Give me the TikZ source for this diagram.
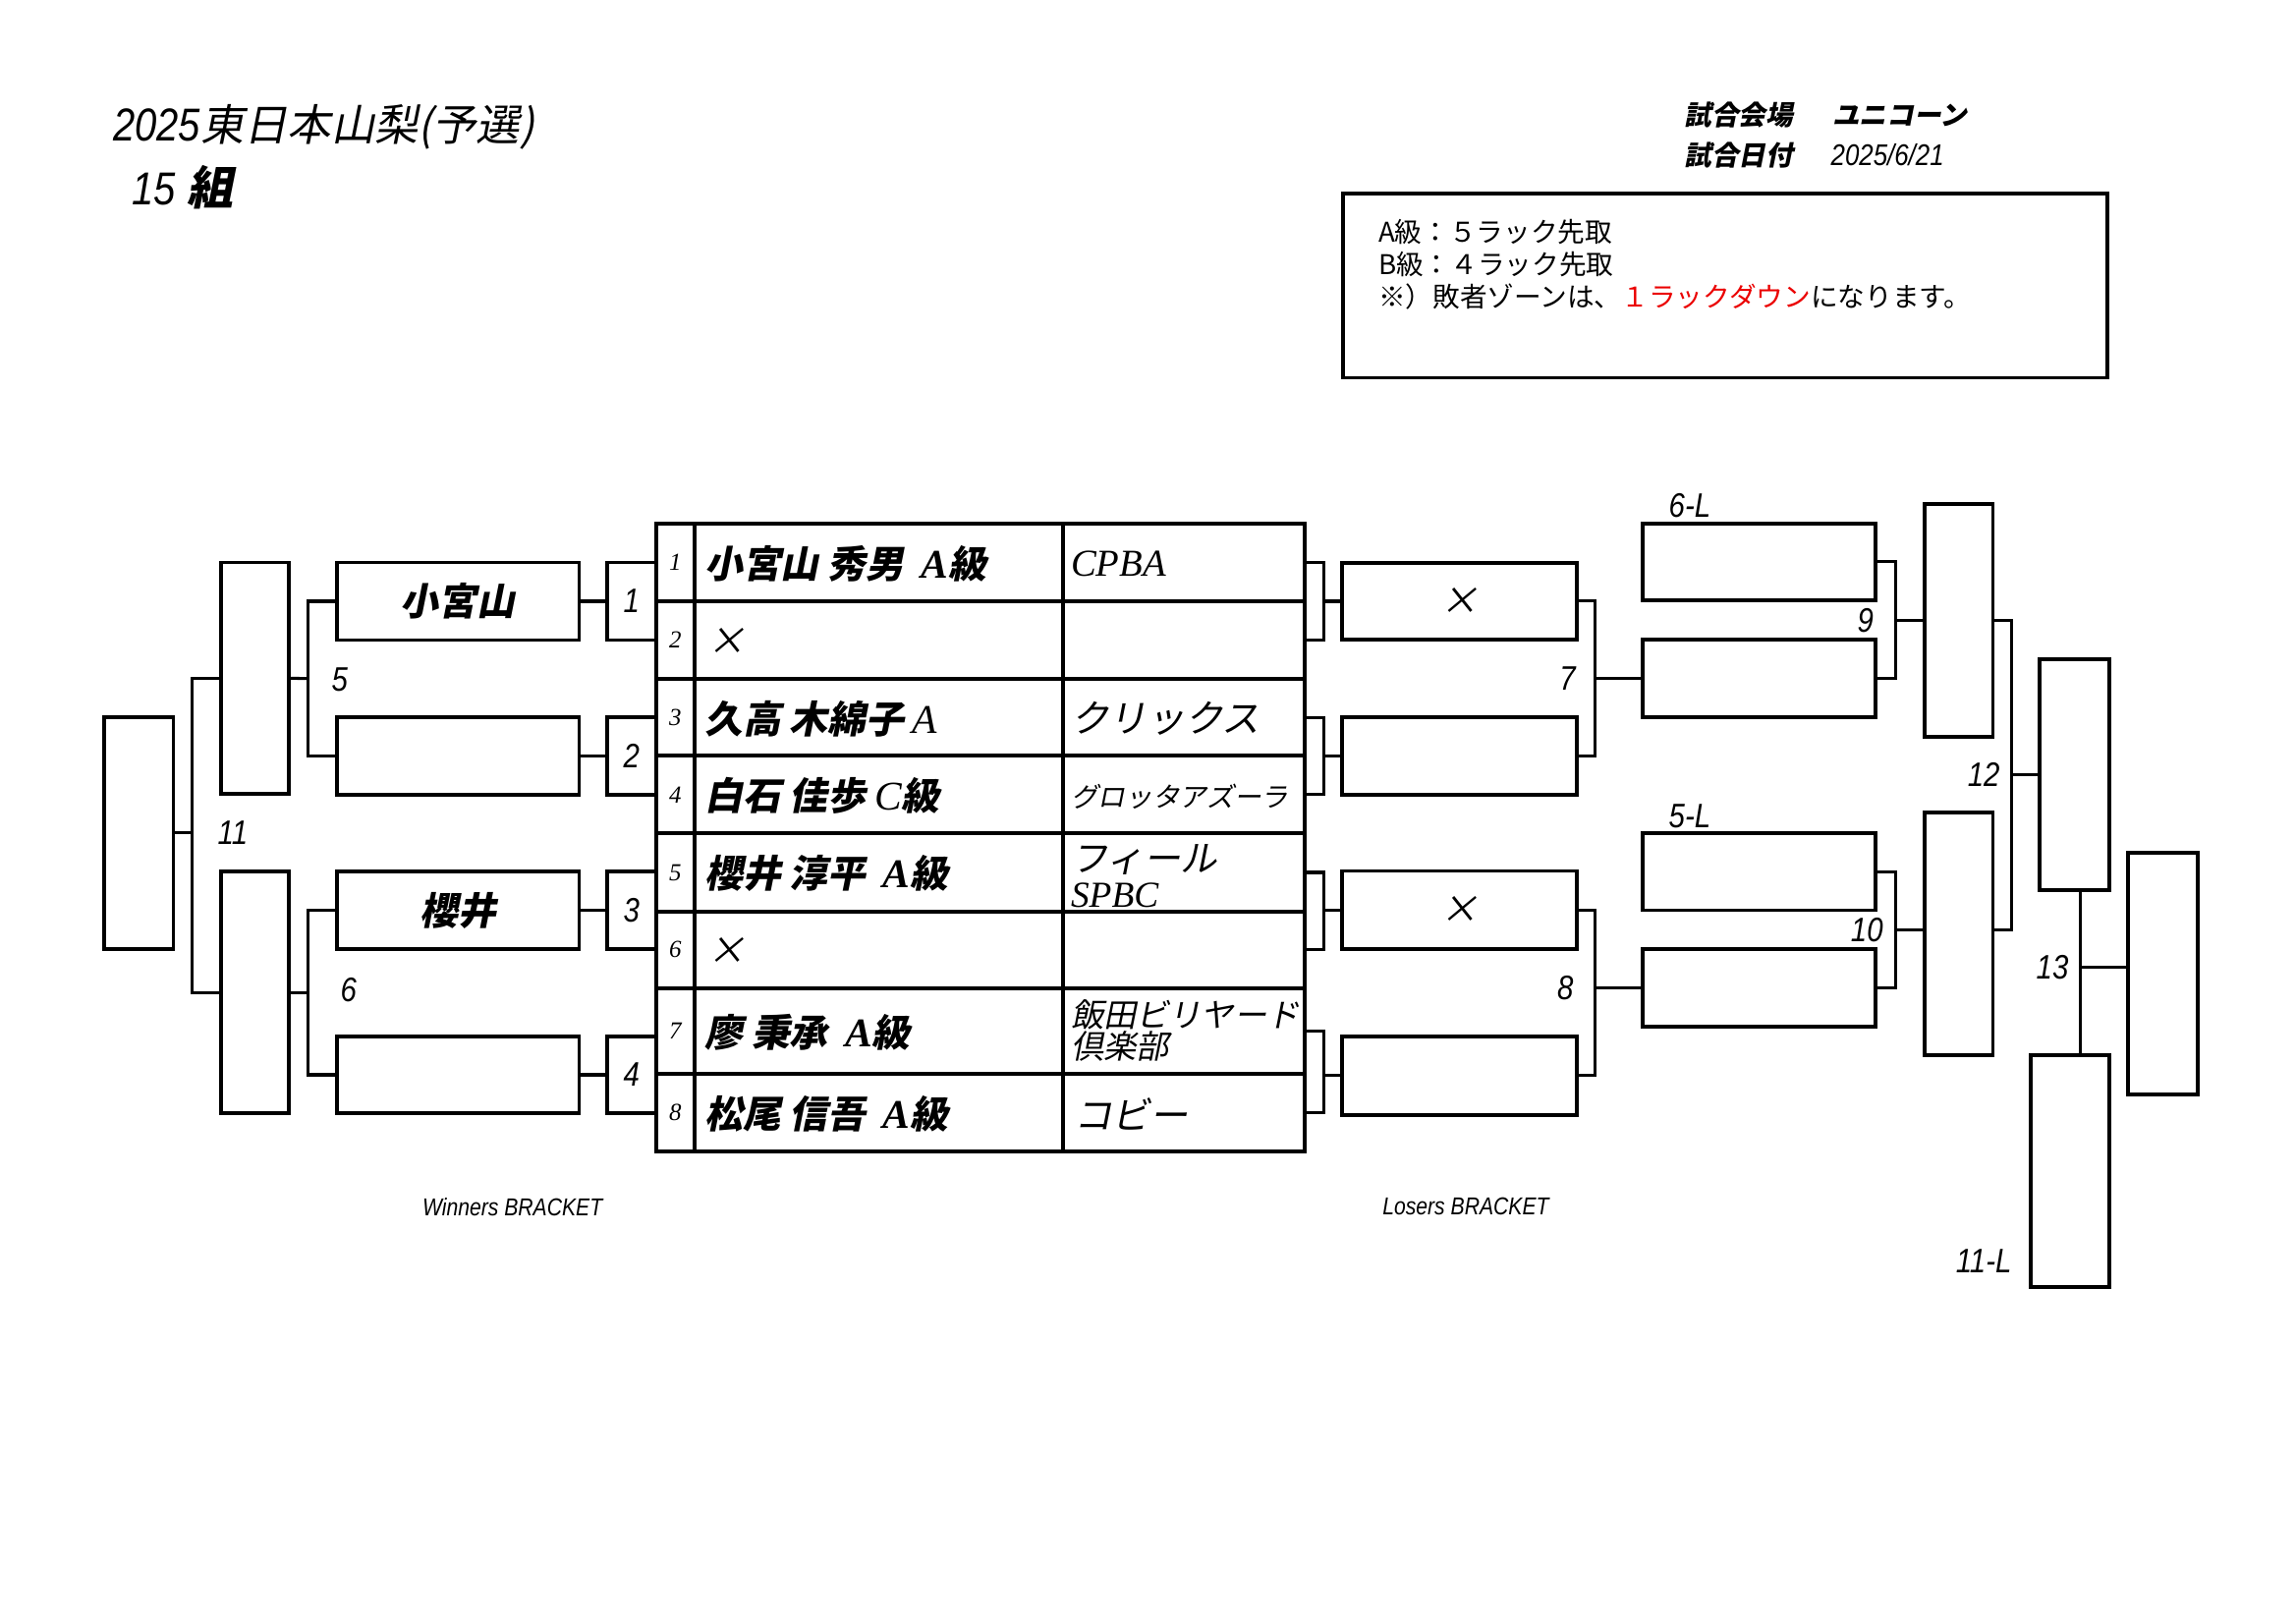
\documentclass[tikz,border=0pt]{standalone}
\usepackage{fontspec}
\setmainfont{Liberation Serif}
\newfontfamily\jp[FakeSlant=0.2]{Noto Sans CJK JP}
\newfontfamily\jpu{Noto Sans CJK JP}
\newfontfamily\nf[FakeStretch=0.85]{Liberation Sans}
\def\pxu{0.018941cm}
\newcommand\bbox[6]{\node[bx,minimum width={(#4-#2)*\pxu},minimum height={(#5-#3)*\pxu}] (#1) at ({(#2+#4)/2},{(#3+#5)/2}) {#6};}
\definecolor{accred}{RGB}{235,0,0}
\begin{document}
\begin{tikzpicture}[x=\pxu,y=-\pxu,
  bx/.style={draw,line width=1.4pt,inner sep=0pt,outer sep=0pt},
  cn/.style={line width=1.1pt},
  lbl/.style={inner sep=0pt,font=\nf\itshape\fontsize{12.5}{14}\selectfont},
  nmf/.style={inner sep=0pt,anchor=west,font=\jp\bfseries\fontsize{14}{16}\selectfont},
  clf/.style={inner sep=0pt,anchor=west,font=\jp\fontsize{14}{16}\selectfont},
  rnf/.style={inner sep=0pt,font=\itshape\fontsize{9}{10}\selectfont},
  hdf/.style={inner sep=0pt,anchor=west,font=\jp\bfseries\fontsize{10}{12}\selectfont},
  inf/.style={inner sep=0pt,anchor=west,font=\jpu\fontsize{10}{12}\selectfont}]
\fill[white] (0,0) rectangle (1568,1109);
\useasboundingbox (0,0) rectangle (1568,1109);

% ---- title & header ----
\node[inner sep=0pt,anchor=base west] (title) at (77,96) {{\nf\itshape\fontsize{17}{20}\selectfont 2025}{\jp\fontsize{16}{20}\selectfont 東日本山梨(予選)}};
\node[inner sep=0pt,anchor=base west] (grp) at (90,140) {{\nf\itshape\fontsize{17}{20}\selectfont 15 }{\jp\bfseries\fontsize{17}{20}\selectfont 組}};
\node[hdf] (venueL) at (1150,78.5) {試合会場};
\node[hdf] (venue) at (1251,78.5) {ユニコーン};
\node[hdf] (dateL) at (1150,105.7) {試合日付};
\node[inner sep=0pt,anchor=west,font=\nf\itshape\fontsize{11}{13}\selectfont] (date) at (1250,105.7) {2025/6/21};
\bbox{info}{917}{132}{1439}{258}{}
\node[inf] (infoA) at (941,158.5) {A級：５ラック先取};
\node[inf] (infoB) at (941,180.5) {B級：４ラック先取};
\node[inf] (infoC) at (941,202.6) {※）敗者ゾーンは、\textcolor{accred}{１ラックダウン}になります。};

% ---- table ----
\foreach \i/\ya/\yb in {1/357.6/410.6,2/410.6/463.8,3/463.8/516.2,4/516.2/569.2,5/569.2/622.4,6/622.4/674.8,7/674.8/733.6,8/733.6/786.2}{
  \bbox{tn\i}{448}{\ya}{474.5}{\yb}{\itshape\fontsize{9}{10}\selectfont\i}
  \bbox{tm\i}{474.5}{\ya}{725.8}{\yb}{}
  \bbox{tc\i}{725.8}{\ya}{891}{\yb}{}
}
\node[nmf] (p1) at (481,385) {小宮山 秀男\ \ {\rmfamily\itshape\fontsize{15}{16}\selectfont A}級};
\node[clf] (p2) at (483,438) {×};
\node[nmf] (p3) at (481,491) {久高 木綿子 {\rmfamily\mdseries\itshape\fontsize{15}{16}\selectfont A}};
\node[nmf] (p4) at (481,543.5) {白石 佳歩 {\rmfamily\mdseries\itshape\fontsize{15}{16}\selectfont C}級};
\node[nmf] (p5) at (481,596.5) {櫻井 淳平\ \ {\rmfamily\itshape\fontsize{15}{16}\selectfont A}級};
\node[clf] (p6) at (483,649.5) {×};
\node[nmf] (p7) at (481,705) {廖 秉承\ \ {\rmfamily\itshape\fontsize{15}{16}\selectfont A}級};
\node[nmf] (p8) at (481,761) {松尾 信吾\ \ {\rmfamily\itshape\fontsize{15}{16}\selectfont A}級};
\node[inner sep=0pt,anchor=west,font=\itshape\fontsize{14}{16}\selectfont] (c1) at (731,385) {CPBA};
\node[clf] (c3) at (731,491) {クリックス};
\node[clf,font=\jp\fontsize{10}{12}\selectfont] (c4) at (731,544) {グロッタアズーラ};
\node[clf,align=left,font=\jp\fontsize{13.5}{13}\selectfont] (c5) at (731,598) {フィール\\{\rmfamily\itshape SPBC}};
\node[clf,align=left,font=\jp\fontsize{12}{11.5}\selectfont] (c7) at (731,704) {飯田ビリヤード\\倶楽部};
\node[clf] (c8) at (733,761) {コビー};

% ---- winners bracket ----
\bbox{wF}{71.2}{489.7}{118.4}{648.1}{}
\bbox{wS1}{150.8}{384.1}{197}{542.2}{}
\bbox{wS2}{150.8}{595.3}{197}{760.3}{}
\bbox{wA}{229.9}{384.1}{395.5}{437.1}{\jp\bfseries\fontsize{14}{16}\selectfont 小宮山}
\bbox{wB}{229.9}{489.7}{395.5}{542.7}{}
\bbox{wC}{229.9}{595.3}{395.5}{648.1}{\jp\bfseries\fontsize{14}{16}\selectfont 櫻井}
\bbox{wD}{229.9}{707.7}{395.5}{760.3}{}
\bbox{wn1}{414.7}{384.1}{448}{437.1}{\nf\itshape\fontsize{12.5}{14}\selectfont 1}
\bbox{wn2}{414.7}{489.7}{448}{542.7}{\nf\itshape\fontsize{12.5}{14}\selectfont 2}
\bbox{wn3}{414.7}{595.3}{448}{648.1}{\nf\itshape\fontsize{12.5}{14}\selectfont 3}
\bbox{wn4}{414.7}{707.7}{448}{760.3}{\nf\itshape\fontsize{12.5}{14}\selectfont 4}
\coordinate (j5) at (210.1,463.4);
\coordinate (j6) at (210.1,677.8);
\coordinate (j11) at (131.2,568.9);
\draw[cn] (wA.west) -| (j5) |- (wB.west);
\draw[cn] (wS1.east) -- (j5);
\draw[cn] (wC.west) -| (j6) |- (wD.west);
\draw[cn] (wS2.east) -- (j6);
\draw[cn] (wS1.west) -| (j11) |- (wS2.west);
\draw[cn] (wF.east) -- (j11);
\draw[cn] (wA.east) -- (wn1.west);
\draw[cn] (wB.east) -- (wn2.west);
\draw[cn] (wC.east) -- (wn3.west);
\draw[cn] (wD.east) -- (wn4.west);
\node[lbl] (l5) at (232,464) {5};
\node[lbl] (l11) at (159,569) {11};
\node[lbl] (l6) at (238,676) {6};

% ---- losers bracket ----
\bbox{lA}{916.6}{384.3}{1076.6}{436.8}{\jp\fontsize{14}{16}\selectfont ×}
\bbox{lB}{916.6}{489.7}{1076.6}{542.8}{}
\bbox{lC}{916.6}{594.8}{1076.6}{648.2}{\jp\fontsize{14}{16}\selectfont ×}
\bbox{lD}{916.6}{707.9}{1076.6}{761.3}{}
\bbox{lE}{1122}{357.4}{1280.8}{410}{}
\bbox{lF}{1122}{436.8}{1280.8}{489.7}{}
\bbox{lG}{1122}{569.1}{1280.8}{621.6}{}
\bbox{lH}{1122}{648.2}{1280.8}{701.1}{}
\bbox{lS1}{1314.2}{344.2}{1361}{503.2}{}
\bbox{lS2}{1314.2}{555}{1361}{720.7}{}
\bbox{lT}{1393}{450.1}{1440.7}{608}{}
\bbox{lU}{1386.8}{720.7}{1440.7}{878.9}{}
\bbox{gF}{1453.4}{582.3}{1500.7}{747.2}{}
\coordinate (b12) at (904.3,410.6);
\coordinate (b34) at (904.3,516.2);
\coordinate (b56) at (904.3,621.5);
\coordinate (b78) at (904.3,734.6);
\draw[cn] (tc1.east) -| (b12) |- (tc2.east);
\draw[cn] (b12) -- (b12 -| lA.west);
\draw[cn] (tc3.east) -| (b34) |- (tc4.east);
\draw[cn] (b34) -- (b34 -| lB.west);
\draw[cn] (tc5.east) -| (b56) |- (tc6.east);
\draw[cn] (b56) -- (b56 -| lC.west);
\draw[cn] (tc7.east) -| (b78) |- (tc8.east);
\draw[cn] (b78) -- (b78 -| lD.west);
\coordinate (j7) at (1089.2,463.3);
\coordinate (j8) at (1089.2,674.7);
\draw[cn] (lA.east) -| (j7) |- (lB.east);
\draw[cn] (j7) -- (j7 -| lF.west);
\draw[cn] (lC.east) -| (j8) |- (lD.east);
\draw[cn] (j8) -- (j8 -| lH.west);
\coordinate (j9) at (1294.6,423.5);
\coordinate (j10) at (1294.6,635);
\draw[cn] (lE.east) -| (j9) |- (lF.east);
\draw[cn] (j9) -- (j9 -| lS1.west);
\draw[cn] (lG.east) -| (j10) |- (lH.east);
\draw[cn] (j10) -- (j10 -| lS2.west);
\coordinate (j12a) at (1373.9,423.5);
\coordinate (j12b) at (1373.9,635);
\coordinate (j12) at (1373.9,529.1);
\draw[cn] (j12a -| lS1.east) -- (j12a) -- (j12b) -- (j12b -| lS2.east);
\draw[cn] (j12) -- (j12 -| lT.west);
\coordinate (j13) at (1420.7,660.7);
\draw[line width=1.4pt] (j13 |- lT.south) -- (j13 |- lU.north);
\draw[cn] (j13) -- (j13 -| gF.west);
\node[lbl] (l7) at (1070.5,463.4) {7};
\node[lbl] (l8) at (1069,675) {8};
\node[lbl] (l9) at (1274,423.6) {9};
\node[lbl] (l10) at (1275,635) {10};
\node[lbl] (l12) at (1354.7,529.2) {12};
\node[lbl] (l13) at (1401.6,660.7) {13};
\node[lbl] (l6L) at (1154,345) {6-L};
\node[lbl] (l5L) at (1154,557.3) {5-L};
\node[lbl] (l11L) at (1354.7,861.2) {11-L};
\node[inner sep=0pt,font=\nf\itshape\fontsize{9}{10}\selectfont] (wlab) at (350,824) {Winners BRACKET};
\node[inner sep=0pt,font=\nf\itshape\fontsize{9}{10}\selectfont] (llab) at (1001,824) {Losers BRACKET};
\end{tikzpicture}
\end{document}
